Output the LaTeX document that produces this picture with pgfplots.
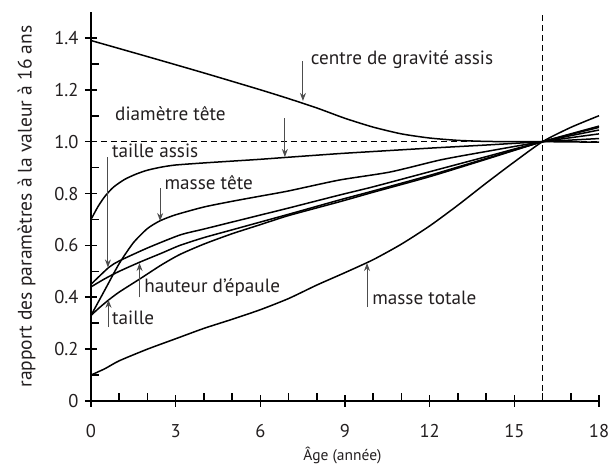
\documentclass[border=0pt]{standalone}
\usepackage{fontspec}
\setmainfont{PT Sans}
\usepackage{pgfplots}
\pgfplotsset{compat=1.18}
\usetikzlibrary{arrows.meta}
\definecolor{txt}{HTML}{231F20}
\definecolor{arr}{HTML}{4D4D4D}

\pgfplotstableread{
x y
0 1.39
2 1.328
4 1.265
6 1.2
7 1.166
8 1.13
9 1.09
10 1.056
11 1.03
12 1.014
13 1.005
14 1.001
15 1.0
16 1.0
17 0.999
18 0.998
}\cgravite

\pgfplotstableread{
x y
0 0.70
0.25 0.75
0.5 0.79
0.8 0.825
1.2 0.855
1.6 0.875
2 0.89
2.5 0.902
3 0.91
4 0.918
5 0.925
6 0.932
7 0.94
8.8 0.954
10 0.962
12 0.975
14 0.987
16 1.0
18 1.012
}\diametre

\pgfplotstableread{
x y
0 0.33
0.5 0.43
1 0.53
1.5 0.61
2 0.665
2.45 0.695
3 0.718
4 0.748
5 0.77
6 0.79
7 0.81
8.8 0.852
10.6 0.883
12.4 0.93
14 0.962
16 1.0
18 1.03
}\massetete

\pgfplotstableread{
x y
0 0.45
0.63 0.515
1 0.54
2 0.59
3.15 0.64
4 0.663
5 0.69
6 0.717
7 0.744
8.8 0.794
10 0.826
12 0.884
14 0.942
16 1.0
18 1.045
}\tailleassis

\pgfplotstableread{
x y
0 0.44
0.5 0.472
1 0.50
1.72 0.535
2.5 0.57
3.15 0.60
4 0.63
5 0.66
6 0.69
7 0.72
8.8 0.775
10 0.81
12 0.87
14 0.935
16 1.0
18 1.06
}\hauteur

\pgfplotstableread{
x y
0 0.33
0.3 0.36
0.63 0.39
1 0.42
1.72 0.47
2.5 0.525
3.15 0.565
4 0.605
5 0.645
6 0.68
7 0.715
8.8 0.768
10 0.805
12 0.865
14 0.932
16 1.0
18 1.055
}\taille

\pgfplotstableread{
x y
0 0.10
0.5 0.125
1 0.155
2 0.20
3 0.24
4 0.28
5 0.315
6 0.352
7 0.395
8 0.447
9 0.495
10 0.545
11 0.605
12 0.675
13 0.755
14 0.84
15 0.922
16 1.0
17 1.055
18 1.10
}\massetotale

\begin{document}
\begin{tikzpicture}
\begin{axis}[
  scale only axis, width=508pt, height=389pt,
  xmin=0, xmax=18, ymin=0, ymax=1.5,
  axis x line*=bottom, axis y line*=left,
  axis line style={line width=1.8pt, black},
  xtick={0,3,6,9,12,15,18},
  ytick={0,0.2,0.4,0.6,0.8,1.0,1.2,1.4},
  yticklabels={0,0.2,0.4,0.6,0.8,1.0,1.2,1.4},
  xticklabels={0,3,6,9,12,15,18},
  minor x tick num=2, minor y tick num=1,
  tick align=center,
  major tick length=12pt, minor tick length=8pt,
  tick style={line width=1.6pt, black},
  minor x tick style={yshift=4pt},
  minor y tick style={xshift=4pt},
  /pgf/number format/assume math mode=true,
  tick label style={font=\fontsize{18.5}{18.5}\selectfont, text=txt},
  xticklabel style={yshift=-14pt},
  yticklabel style={xshift=-3pt},
  xlabel={Âge (année)},
  ylabel={rapport des paramètres à la valeur à 16 ans},
  xlabel style={at={(axis description cs:0.495,-0.139)}, anchor=center, font=\fontsize{15.5}{15.5}\selectfont, text=txt},
  ylabel style={at={(axis description cs:-0.127,0.5)}, anchor=center, font=\fontsize{19.5}{19.5}\selectfont, text=txt},
  clip=false,
]
\addplot[black, dashed, line width=0.9pt, dash pattern=on 6pt off 4pt] coordinates {(0,1) (18,1)};
\addplot[black, dashed, line width=0.9pt, dash pattern=on 6pt off 4pt] coordinates {(16,0) (16,1.5)};

\addplot[black, line width=1.5pt, smooth, tension=0.4] table {\cgravite};
\addplot[black, line width=1.5pt, smooth, tension=0.4] table {\diametre};
\addplot[black, line width=1.5pt, smooth, tension=0.4] table {\massetete};
\addplot[black, line width=1.5pt, smooth, tension=0.4] table {\tailleassis};
\addplot[black, line width=1.5pt, smooth, tension=0.4] table {\hauteur};
\addplot[black, line width=1.5pt, smooth, tension=0.4] table {\taille};
\addplot[black, line width=1.5pt, smooth, tension=0.4] table {\massetotale};

\tikzset{ann/.style={arr, line width=1pt, -{Stealth[length=8pt,width=6pt]}},
         lab/.style={font=\fontsize{19.2}{19.2}\selectfont, text=txt, anchor=west, inner sep=0pt}}
% centre de gravite assis
\draw[ann] (axis cs:7.51,1.31) -- (axis cs:7.51,1.157);
\node[lab] at (axis cs:7.78,1.315) {centre de gravité assis};
% diametre tete
\draw[ann] (axis cs:6.87,1.091) -- (axis cs:6.87,0.941);
\node[lab] at (axis cs:0.85,1.107) {diamètre tête};
% taille assis
\draw[ann] (axis cs:0.6,0.94) -- (axis cs:0.6,0.515);
\node[lab] at (axis cs:0.74,0.964) {taille assis};
% masse tete
\draw[ann] (axis cs:2.45,0.821) -- (axis cs:2.45,0.694);
\node[lab] at (axis cs:2.6,0.841) {masse tête};
% hauteur d'epaule
\draw[ann] (axis cs:1.72,0.40) -- (axis cs:1.72,0.532);
\node[lab] at (axis cs:1.88,0.436) {hauteur d'épaule};
% taille
\draw[ann] (axis cs:0.62,0.285) -- (axis cs:0.62,0.39);
\node[lab] at (axis cs:0.74,0.32) {taille};
% masse totale
\draw[ann] (axis cs:9.78,0.362) -- (axis cs:9.78,0.532);
\node[lab] at (axis cs:9.96,0.397) {masse totale};

\coordinate (ll) at (rel axis cs:0,0);
\coordinate (ur) at (rel axis cs:1,1);
\end{axis}
\pgfresetboundingbox
\path ([shift={(-91pt,-66pt)}]ll) rectangle ([shift={(14pt,12pt)}]ur);
\end{tikzpicture}
\end{document}
